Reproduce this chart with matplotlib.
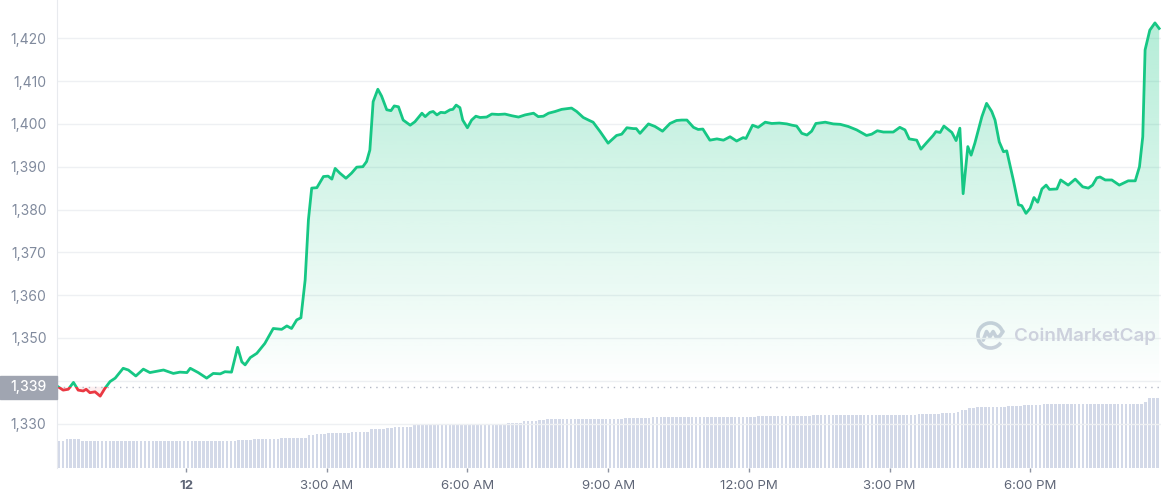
import numpy as np
import matplotlib
matplotlib.use("Agg")
import matplotlib.pyplot as plt
from matplotlib.patches import Rectangle, PathPatch, Arc
from matplotlib.path import Path
from matplotlib.colors import to_rgb

plt.rcParams['font.family'] = ['Inter', 'DejaVu Sans']

# price, hours relative to midnight of the 12th
price_hours = [
    -2.73, -2.62, -2.51, -2.40, -2.30, -2.19, -2.13, -2.05, -1.94, -1.83, -1.73, -1.62,
    -1.51, -1.34, -1.23, -1.07, -0.91, -0.77, -0.63, -0.48, -0.27, -0.13, 0.02, 0.09,
    0.26, 0.44, 0.58, 0.73, 0.83, 0.97, 1.10, 1.19, 1.26, 1.37, 1.51, 1.68, 1.86, 2.04,
    2.15, 2.25, 2.36, 2.45, 2.54, 2.61, 2.68, 2.79, 2.93, 3.03, 3.11, 3.18, 3.28, 3.41,
    3.53, 3.64, 3.77, 3.85, 3.92, 3.99, 4.09, 4.17, 4.28, 4.37, 4.44, 4.53, 4.63, 4.78,
    4.88, 5.03, 5.10, 5.20, 5.27, 5.35, 5.43, 5.52, 5.63, 5.69, 5.76, 5.84, 5.90, 6.00,
    6.09, 6.18, 6.27, 6.41, 6.52, 6.66, 6.80, 6.95, 7.09, 7.23, 7.41, 7.51, 7.62, 7.73,
    7.87, 8.01, 8.22, 8.33, 8.47, 8.60, 8.68, 8.83, 9.00, 9.18, 9.29, 9.40, 9.54, 9.60,
    9.68, 9.86, 10.00, 10.16, 10.32, 10.46, 10.57, 10.68, 10.82, 10.92, 11.02, 11.17,
    11.32, 11.46, 11.60, 11.74, 11.88, 11.94, 12.08, 12.20, 12.35, 12.49, 12.65, 12.81,
    12.92, 13.02, 13.13, 13.24, 13.34, 13.43, 13.63, 13.80, 13.95, 14.12, 14.30, 14.51,
    14.62, 14.74, 14.87, 15.08, 15.22, 15.33, 15.42, 15.58, 15.67, 15.79, 15.93, 15.99,
    16.08, 16.16, 16.33, 16.42, 16.50, 16.57, 16.67, 16.74, 16.82, 16.97, 17.07, 17.18,
    17.25, 17.34, 17.43, 17.50, 17.64, 17.75, 17.82, 17.91, 18.00, 18.08, 18.16, 18.25,
    18.34, 18.41, 18.57, 18.65, 18.81, 18.96, 19.12, 19.24, 19.33, 19.42, 19.49, 19.60,
    19.74, 19.90, 20.09, 20.24, 20.33, 20.40, 20.45, 20.55, 20.66, 20.75,
]
prices = [
    1338.6, 1337.8, 1338.0, 1339.6, 1337.8, 1337.6, 1338.0, 1337.2, 1337.4, 1336.4, 1338.2, 1339.8,
    1340.6, 1342.9, 1342.5, 1341.1, 1342.7, 1341.9, 1342.2, 1342.5, 1341.7, 1342.0, 1341.9, 1342.9,
    1341.9, 1340.6, 1341.7, 1341.6, 1342.1, 1342.0, 1347.8, 1344.4, 1343.7, 1345.4, 1346.4, 1348.7, 1352.2, 1352.0,
    1352.8, 1352.2, 1354.2, 1354.7, 1363.5, 1377.6, 1385.0, 1385.1, 1387.7, 1387.8, 1387.1, 1389.6, 1388.5, 1387.3,
    1388.5, 1389.9, 1390.0, 1391.2, 1393.9, 1405.2, 1408.1, 1406.5, 1403.3, 1403.1, 1404.2, 1404.0, 1400.9, 1399.7,
    1400.5, 1402.5, 1401.7, 1402.7, 1402.9, 1402.1, 1402.7, 1402.6, 1403.3, 1403.4, 1404.4, 1403.8, 1400.9, 1399.1,
    1400.9, 1401.8, 1401.5, 1401.6, 1402.3, 1402.2, 1402.3, 1401.9, 1401.6, 1402.1, 1402.5, 1401.7, 1401.8, 1402.5,
    1402.9, 1403.4, 1403.7, 1402.9, 1401.5, 1400.8, 1400.4, 1398.2, 1395.5, 1397.3, 1397.6, 1399.1, 1398.9, 1398.9,
    1397.8, 1400.0, 1399.4, 1398.3, 1400.1, 1400.8, 1400.9, 1400.9, 1399.2, 1398.7, 1398.8, 1396.2,
    1396.5, 1396.2, 1397.0, 1396.0, 1396.8, 1396.6, 1399.7, 1399.2, 1400.4, 1400.1, 1400.2, 1400.0,
    1399.7, 1399.5, 1397.8, 1397.4, 1398.3, 1400.1, 1400.4, 1400.0, 1399.9, 1399.4, 1398.6, 1397.3,
    1397.6, 1398.4, 1398.1, 1398.1, 1399.2, 1398.6, 1396.5, 1396.2, 1394.1, 1395.6, 1397.3, 1398.2,
    1398.0, 1399.5, 1398.0, 1396.1, 1399.0, 1383.7, 1394.7, 1392.7, 1395.5, 1401.7, 1404.8, 1402.9,
    1400.9, 1395.8, 1393.5, 1393.7, 1386.9, 1381.1, 1380.9, 1379.1, 1380.3, 1382.8, 1381.7, 1384.8,
    1385.7, 1384.7, 1384.8, 1386.9, 1385.7, 1387.1, 1385.3, 1385.0, 1385.7, 1387.4, 1387.6, 1386.9,
    1386.9, 1385.7, 1386.7, 1386.7, 1390.0, 1397.0, 1417.3, 1421.9, 1423.6, 1422.3,
]
open_price = 1338.6

# 24h volume (billions USD), one bar per 5 minutes
vol_start = -2.708
vol_step = 5 / 60
volume_b = [
    13.4, 13.4, 14.1, 14.1, 14.1, 14.1, 13.4, 13.4, 13.4, 13.4, 13.4, 13.4,
    13.4, 13.4, 13.4, 13.4, 13.4, 13.4, 13.4, 13.4, 13.4, 13.4, 13.4, 13.4,
    13.4, 13.4, 13.4, 13.4, 13.4, 13.4, 13.4, 13.4, 13.4, 13.4, 13.4, 13.4,
    13.4, 13.4, 13.4, 13.4, 13.4, 13.4, 13.4, 13.4, 13.4, 13.4, 13.9, 13.9,
    13.9, 13.9, 14.4, 14.4, 14.4, 14.4, 14.4, 14.4, 14.4, 14.75, 14.9, 14.9,
    14.9, 14.9, 14.9, 14.9, 16.25, 16.25, 16.9, 16.9, 16.9, 17.4, 17.4, 17.4,
    17.4, 17.4, 17.4, 17.9, 17.9, 17.9, 17.9, 17.9, 19.1, 19.1, 19.1, 19.1,
    19.9, 19.9, 20.4, 20.4, 20.4, 20.4, 20.4, 21.1, 21.1, 21.1, 21.1, 21.1,
    21.1, 21.1, 21.1, 21.1, 21.1, 21.4, 21.4, 21.4, 21.4, 21.4, 21.4, 21.4,
    21.4, 21.4, 21.4, 21.4, 21.4, 21.4, 21.4, 22.25, 22.25, 22.25, 22.25, 23.1,
    23.1, 23.1, 23.1, 23.6, 23.6, 24.1, 24.1, 24.1, 24.1, 24.1, 24.1, 24.1,
    24.1, 24.1, 24.1, 24.1, 24.1, 24.1, 24.1, 24.1, 24.4, 24.4, 24.1, 24.1,
    24.1, 24.6, 24.6, 24.6, 24.6, 24.6, 24.6, 24.6, 25.1, 25.1, 25.1, 25.1,
    25.1, 25.1, 25.1, 25.1, 25.1, 25.1, 25.1, 25.1, 25.1, 25.1, 25.4, 25.4,
    25.4, 25.4, 25.4, 25.4, 25.4, 25.4, 25.4, 25.4, 25.4, 25.4, 25.4, 25.9,
    25.9, 25.9, 25.9, 25.9, 25.9, 25.9, 25.9, 25.9, 25.9, 25.9, 25.9, 25.9,
    25.9, 26.4, 26.4, 26.4, 26.4, 26.4, 26.4, 26.4, 26.4, 26.4, 26.4, 26.4,
    26.4, 26.4, 26.4, 26.4, 26.4, 26.4, 26.4, 26.4, 26.4, 26.4, 26.4, 26.4,
    26.4, 26.4, 26.4, 26.4, 26.9, 26.9, 26.9, 26.9, 26.9, 26.9, 27.1, 27.1,
    27.1, 27.1, 27.6, 28.75, 28.75, 29.6, 29.6, 30.1, 30.1, 30.4, 30.4, 30.4,
    30.4, 30.4, 30.4, 30.9, 30.9, 30.9, 30.9, 31.4, 31.4, 31.4, 31.4, 31.4,
    31.9, 31.9, 31.9, 31.9, 31.9, 31.9, 31.9, 31.9, 31.9, 31.9, 31.9, 31.9,
    31.9, 31.9, 31.9, 31.9, 31.9, 31.9, 31.9, 31.9, 31.9, 31.9, 31.9, 31.9,
    31.9, 31.9, 32.9, 34.9, 34.9, 34.9,
]

x_ticks = [0, 3, 6, 9, 12, 15, 18]
x_labels = ['12', '3:00 AM', '6:00 AM', '9:00 AM', '12:00 PM', '3:00 PM', '6:00 PM']
y_ticks = [1330, 1340, 1350, 1360, 1370, 1380, 1390, 1400, 1410, 1420]
# 1,340 sits under the open-price badge
y_labels = ['1,330', '', '1,350', '1,360', '1,370', '1,380', '1,390', '1,400', '1,410', '1,420']

GREEN = '#16c784'
RED = '#ea3943'

W, H = 1161, 500
fig = plt.figure(figsize=(W / 100, H / 100), dpi=100)
left, right, top, bottom = 57, 1161, 0, 467.5
ax = fig.add_axes([left / W, 1 - bottom / H, (right - left) / W, (bottom - top) / H])
vax = ax.twinx()
ax.set_zorder(2)
ax.patch.set_visible(False)
vax.set_zorder(1)

xmin, xmax = -2.751, 20.789
ymin, ymax = 1319.72, 1428.95

hours = np.array(price_hours)
p = np.array(prices)

# volume bars
vol_hours = vol_start + vol_step * np.arange(len(volume_b))
vax.bar(vol_hours, volume_b, width=0.056, color='#d3d9e8', linewidth=0)
vax.set_ylim(0, (bottom - top) / 2)
vax.set_yticks([])
for s in vax.spines.values():
    s.set_visible(False)

# gradient fill above the open price
n = 256
rgba = np.zeros((n, 1, 4))
rgba[..., :3] = to_rgb(GREEN)
rgba[:, 0, 3] = np.linspace(0.32, 0.0, n)
im = ax.imshow(rgba, extent=[xmin, xmax, open_price, 1424], aspect='auto',
               origin='upper', zorder=1, interpolation='bilinear')
verts = list(zip(hours, np.maximum(p, open_price))) + [(hours[-1], open_price), (hours[0], open_price)]
clip = PathPatch(Path(verts), transform=ax.transData, facecolor='none', edgecolor='none')
im.set_clip_path(clip)
ax.fill_between(hours, p, open_price, where=p < open_price, interpolate=True,
                color=RED, alpha=0.08, linewidth=0, zorder=1)

# price line, green above open, red below
up, = ax.plot(hours, p, color=GREEN, lw=2.0, zorder=4, solid_joinstyle='round')
dn, = ax.plot(hours, p, color=RED, lw=2.0, zorder=4, solid_joinstyle='round')
up.set_clip_path(Rectangle((xmin, open_price), xmax - xmin, ymax - open_price, transform=ax.transData))
dn.set_clip_path(Rectangle((xmin, ymin), xmax - xmin, open_price - ymin, transform=ax.transData))

ax.axhline(open_price, color='#b3b8c5', lw=1, ls=(0, (1, 3.5)), zorder=3)

ax.set_xlim(xmin, xmax)
ax.set_ylim(ymin, ymax)

ax.set_yticks(y_ticks, y_labels)
ax.yaxis.grid(True, color='#eef0f3', lw=1)
ax.set_axisbelow(True)
ax.tick_params(axis='y', length=0, pad=7.5, labelsize=10, labelcolor='#808a9d')
ax.set_xticks(x_ticks, x_labels)
ax.tick_params(axis='x', length=3, width=1, color='#8d93a1', pad=6, labelsize=9.5,
               labelcolor='#5f6677')
ax.get_xticklabels()[0].set_fontweight('bold')
for name, s in ax.spines.items():
    s.set_visible(name == 'left')
ax.spines['left'].set_color('#e8eaee')

# open price badge
fig.canvas.draw()
yb = ax.transData.transform((0, open_price))[1] / H
fig.patches.append(Rectangle((0, yb - 12 / H), left / W, 23 / H, transform=fig.transFigure,
                             color='#a0a5b1', zorder=5))
fig.text(47 / W, yb, f'{open_price:,.0f}', ha='right', va='center', color='white',
         fontsize=10, fontweight='medium', zorder=6)

# watermark
lax = fig.add_axes([976 / W, 1 - 350 / H, 29 / W, 29 / H])
lax.set_xlim(-1.1, 1.1)
lax.set_ylim(-1.1, 1.1)
lax.axis('off')
wm = '#cdd1dd'
lax.add_patch(Arc((0, 0), 1.9, 1.9, theta1=15, theta2=325, color=wm, lw=2.6))
lax.plot([-0.55, -0.3, -0.05, 0.2, 0.45, 0.7, 0.95], [-0.35, 0.3, -0.1, 0.3, -0.15, -0.05, 0.3],
         color=wm, lw=2.6, solid_capstyle='round', solid_joinstyle='round')
fig.text(1014 / W, 1 - 336 / H, 'CoinMarketCap', fontsize=13.5, fontweight='semibold',
         color=wm, va='center', ha='left')

fig.savefig('out.png', dpi=100)
